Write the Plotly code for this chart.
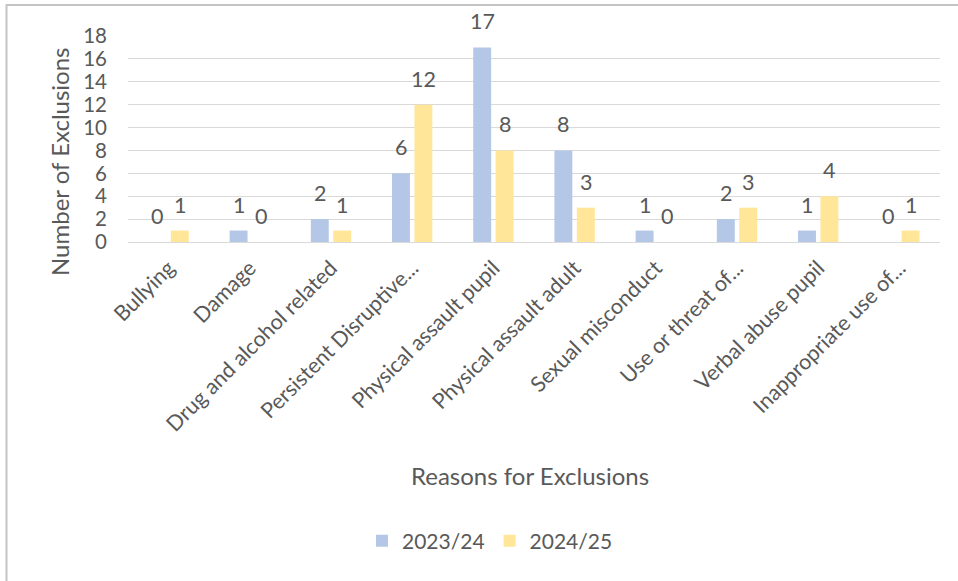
import plotly.graph_objects as go

categories = [
    "Bullying",
    "Damage",
    "Drug and alcohol related",
    "Persistent Disruptive...",
    "Physical assault pupil",
    "Physical assault adult",
    "Sexual misconduct",
    "Use or threat of...",
    "Verbal abuse pupil",
    "Inappropriate use of...",
]
series_names = ["2023/24", "2024/25"]
values_2023_24 = [0, 1, 2, 6, 17, 8, 1, 2, 1, 0]
values_2024_25 = [1, 0, 1, 12, 8, 3, 0, 3, 4, 1]
y_ticks = [0, 2, 4, 6, 8, 10, 12, 14, 16, 18]

colors = ["#b4c7e7", "#ffe699"]
text_color = "#595959"
font_family = "Lato, Carlito, Calibri, sans-serif"
fs_tick = 20.5
fs_cat = 21.5
fs_label = 21.5
fs_title = 24
fs_legend = 21

W, H = 958, 581
L, R, T, B = 128, 18, 36, 339
plot_w = W - L - R
plot_h = H - T - B

fig = go.Figure()
for name, vals, col in zip(series_names, [values_2023_24, values_2024_25], colors):
    fig.add_trace(go.Bar(x=categories, y=vals, name=name, marker=dict(color=col, line=dict(width=0))))

# data labels
cat_w = plot_w / len(categories)
bargap = 0.448
groupgap = 0.2
slot = cat_w * (1 - bargap) / 2
offsets = [-slot / 2, slot / 2]
annotations = []
for k, vals in enumerate([values_2023_24, values_2024_25]):
    for c, v in zip(categories, vals):
        annotations.append(dict(
            x=c, y=v, xref="x", yref="y", text=str(v), showarrow=False,
            xshift=offsets[k], yshift=26, yanchor="middle",
            font=dict(family=font_family, size=fs_label, color=text_color),
        ))

def px_to_paper_y(py):
    return (H - B - py) / plot_h

def px_to_paper_x(px):
    return (px - L) / plot_w

annotations.append(dict(
    text="Number of Exclusions", textangle=-90, showarrow=False,
    xref="paper", yref="paper", x=px_to_paper_x(59), y=px_to_paper_y(162),
    xanchor="center", yanchor="middle",
    font=dict(family=font_family, size=fs_title, color=text_color),
))
annotations.append(dict(
    text="Reasons for Exclusions", showarrow=False,
    xref="paper", yref="paper", x=px_to_paper_x(530), y=px_to_paper_y(475),
    xanchor="center", yanchor="middle",
    font=dict(family=font_family, size=fs_title, color=text_color),
))

shapes = [
    dict(type="rect", xref="paper", yref="paper",
         x0=px_to_paper_x(6.5), x1=px_to_paper_x(W + 20),
         y0=px_to_paper_y(5), y1=px_to_paper_y(H + 20),
         line=dict(color="#c4c4c4", width=2), fillcolor="rgba(0,0,0,0)", layer="below"),
]

fig.update_layout(
    width=W, height=H,
    margin=dict(l=L, r=R, t=T, b=B, autoexpand=False),
    paper_bgcolor="white", plot_bgcolor="white",
    barmode="group", bargap=bargap, bargroupgap=groupgap,
    font=dict(family=font_family, size=fs_tick, color=text_color),
    showlegend=True,
    legend=dict(
        orientation="h", x=px_to_paper_x(490), y=px_to_paper_y(541),
        xanchor="center", yanchor="middle",
        font=dict(family=font_family, size=fs_legend, color=text_color),
        itemwidth=30, traceorder="normal",
    ),
    annotations=annotations,
    shapes=shapes,
)
fig.update_xaxes(
    tickangle=-45, showgrid=False, showline=True, linecolor="#d9d9d9", linewidth=1,
    ticks="", tickfont=dict(family=font_family, size=fs_cat, color=text_color),
    ticklabelstandoff=4,
)
fig.update_yaxes(
    range=[0, 18], tickvals=y_ticks, showgrid=True, gridcolor="#d9d9d9", gridwidth=1,
    zeroline=False, showline=False, ticks="",
    tickfont=dict(family=font_family, size=fs_tick, color=text_color),
    ticklabelstandoff=20,
)

fig.write_html(
    "out.html",
    config={"displayModeBar": False},
    post_script="document.body.style.margin='0';document.body.style.overflow='hidden';",
)
